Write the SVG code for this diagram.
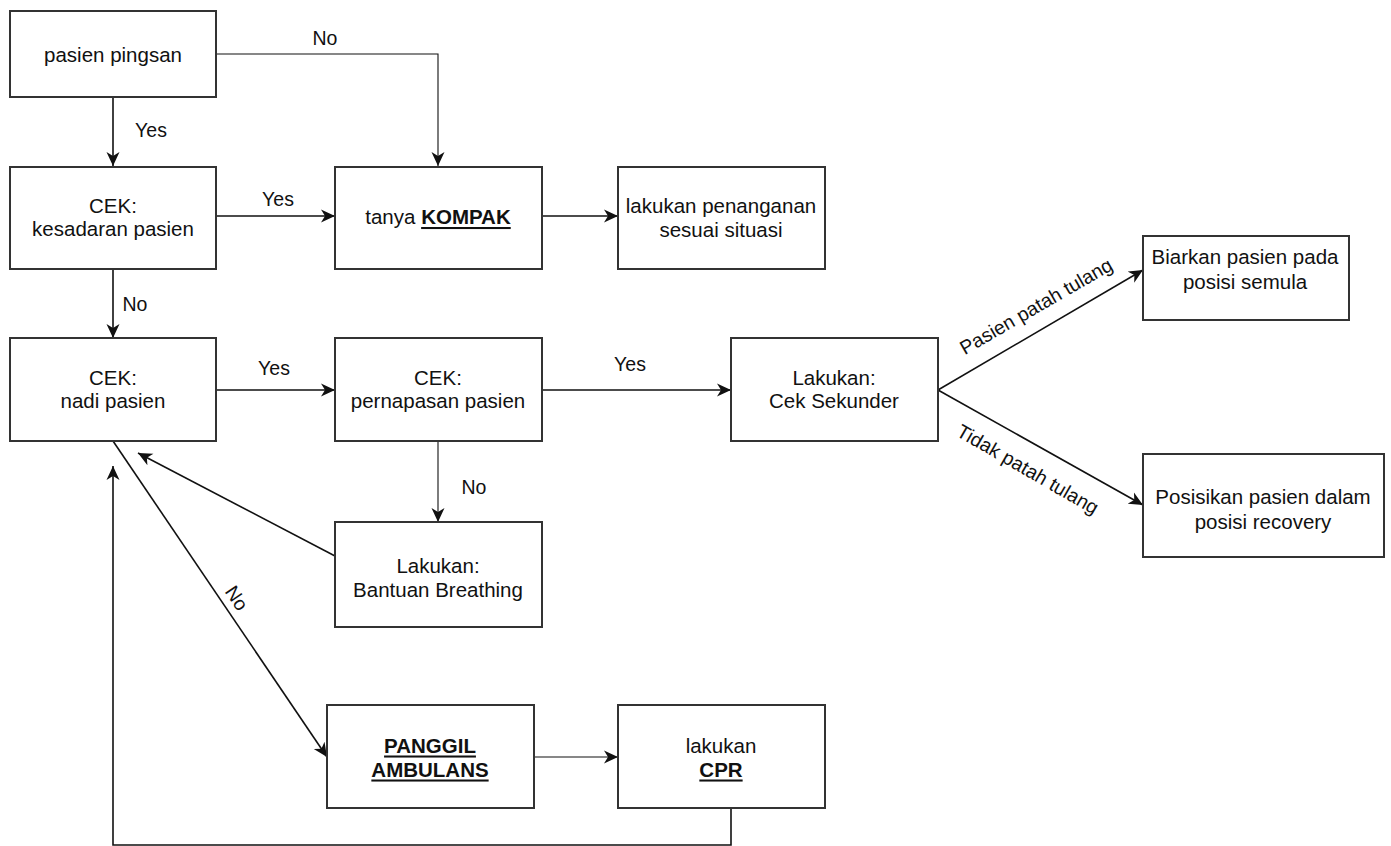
<svg xmlns="http://www.w3.org/2000/svg" width="1391" height="846" viewBox="0 0 1391 846">
<style>
.box{fill:#fff;stroke:#333;stroke-width:2}
.t{font-family:"Liberation Sans",Arial,sans-serif;font-size:20.5px;fill:#111;text-anchor:middle;dominant-baseline:central}
.l{font-family:"Liberation Sans",Arial,sans-serif;font-size:19.5px;fill:#111;text-anchor:middle;dominant-baseline:central}
.b{font-weight:bold;text-decoration:underline}
.c{fill:none;stroke:#111;stroke-width:1.6}
.thin{stroke-width:1.1}
</style>
<defs>
<marker id="a" markerUnits="userSpaceOnUse" markerWidth="16" markerHeight="14" refX="14" refY="7" orient="auto">
<path d="M0,0.5 L14,7 L0,13.5 L4,7 Z" fill="#111"/>
</marker>
</defs>
<rect width="1391" height="846" fill="#fff"/>
<g id="connectors">
<path class="c" d="M113,97 V166" marker-end="url(#a)"/>
<path class="c thin" d="M216,54 H438 V166" marker-end="url(#a)"/>
<path class="c" d="M216,216 H335" marker-end="url(#a)"/>
<path class="c" d="M542,216 H618" marker-end="url(#a)"/>
<path class="c" d="M113,269 V338" marker-end="url(#a)"/>
<path class="c" d="M216,390 H335" marker-end="url(#a)"/>
<path class="c" d="M542,390 H731" marker-end="url(#a)"/>
<path class="c thin" d="M438,441 V522" marker-end="url(#a)"/>
<path class="c" d="M335,556 L138,453" marker-end="url(#a)"/>
<path class="c" d="M113,441 L327,757" marker-end="url(#a)"/>
<path class="c thin" d="M534,757 H618" marker-end="url(#a)"/>
<path class="c" d="M731,808 V845 H113 V466" marker-end="url(#a)"/>
<path class="c" d="M938,390 L1143,270" marker-end="url(#a)"/>
<path class="c" d="M938,390 L1143,505" marker-end="url(#a)"/>
<text class="l" x="151" y="130">Yes</text>
<text class="l" x="325" y="38">No</text>
<text class="l" x="278" y="199">Yes</text>
<text class="l" x="135" y="304">No</text>
<text class="l" x="274" y="368">Yes</text>
<text class="l" x="630" y="364">Yes</text>
<text class="l" x="474" y="487">No</text>
<text class="l" transform="translate(237,598) rotate(56)">No</text>
<text class="l" transform="translate(1036,306) rotate(-30)">Pasien patah tulang</text>
<text class="l" transform="translate(1028,469) rotate(30)">Tidak patah tulang</text>
</g>
<g id="n1"><rect class="box" x="10" y="11" width="206" height="86"/><text class="t" x="113" y="54">pasien pingsan</text></g>
<g id="n2"><rect class="box" x="10" y="167" width="206" height="102"/><text class="t" x="113" y="205">CEK:</text><text class="t" x="113" y="228">kesadaran pasien</text></g>
<g id="n3"><rect class="box" x="335" y="167" width="207" height="102"/><text class="t" x="438" y="216">tanya <tspan class="b">KOMPAK</tspan></text></g>
<g id="n4"><rect class="box" x="618" y="167" width="207" height="102"/><text class="t" x="721" y="205">lakukan penanganan</text><text class="t" x="721" y="229">sesuai situasi</text></g>
<g id="n5"><rect class="box" x="1143" y="236" width="206" height="84"/><text class="t" x="1245" y="256">Biarkan pasien pada</text><text class="t" x="1245" y="281">posisi semula</text></g>
<g id="n6"><rect class="box" x="10" y="338" width="206" height="103"/><text class="t" x="113" y="377">CEK:</text><text class="t" x="113" y="400">nadi pasien</text></g>
<g id="n7"><rect class="box" x="335" y="338" width="207" height="103"/><text class="t" x="438" y="377">CEK:</text><text class="t" x="438" y="400">pernapasan pasien</text></g>
<g id="n8"><rect class="box" x="731" y="338" width="207" height="103"/><text class="t" x="834" y="377">Lakukan:</text><text class="t" x="834" y="400">Cek Sekunder</text></g>
<g id="n9"><rect class="box" x="1143" y="454" width="241" height="103"/><text class="t" x="1263" y="496">Posisikan pasien dalam</text><text class="t" x="1263" y="521">posisi recovery</text></g>
<g id="n10"><rect class="box" x="335" y="522" width="207" height="105"/><text class="t" x="438" y="565">Lakukan:</text><text class="t" x="438" y="589">Bantuan Breathing</text></g>
<g id="n11"><rect class="box" x="327" y="705" width="207" height="103"/><text class="t b" x="430" y="745">PANGGIL</text><text class="t b" x="430" y="769">AMBULANS</text></g>
<g id="n12"><rect class="box" x="618" y="705" width="207" height="103"/><text class="t" x="721" y="745">lakukan</text><text class="t b" x="721" y="769">CPR</text></g>
</svg>
